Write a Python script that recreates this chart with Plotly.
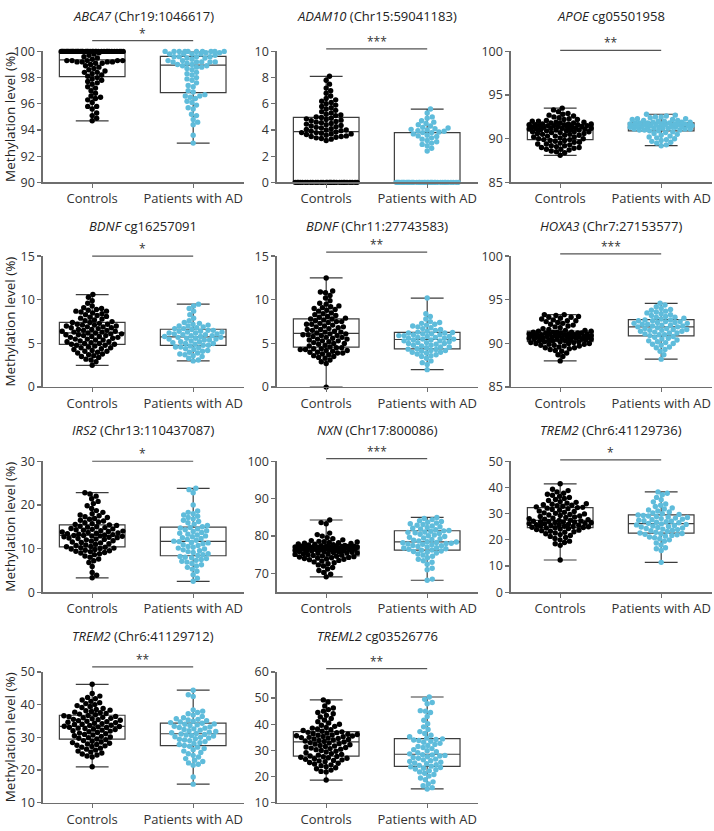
import math
import numpy as np
import plotly.graph_objects as go

W, H = 714, 831

categories = ["Controls", "Patients with AD"]

titles = [
    "<i>ABCA7</i> (Chr19:1046617)", "<i>ADAM10</i> (Chr15:59041183)", "<i>APOE</i> cg05501958",
    "<i>BDNF</i> cg16257091", "<i>BDNF</i> (Chr11:27743583)", "<i>HOXA3</i> (Chr7:27153577)",
    "<i>IRS2</i> (Chr13:110437087)", "<i>NXN</i> (Chr17:800086)", "<i>TREM2</i> (Chr6:41129736)",
    "<i>TREM2</i> (Chr6:41129712)", "<i>TREML2</i> cg03526776",
]
significance = ["*", "***", "**", "*", "**", "***", "*", "***", "*", "**", "**"]
y_ranges = [[90, 100], [0, 10], [85, 100], [0, 15], [0, 15], [85, 100],
            [0, 30], [65, 100], [0, 50], [10, 50], [10, 60]]
y_ticks = [
    [90, 92, 94, 96, 98, 100], [0, 2, 4, 6, 8, 10], [85, 90, 95, 100],
    [0, 5, 10, 15], [0, 5, 10, 15], [85, 90, 95, 100],
    [0, 10, 20, 30], [70, 80, 90, 100], [0, 10, 20, 30, 40, 50],
    [10, 20, 30, 40, 50], [10, 20, 30, 40, 50, 60],
]
y_title = "Methylation level (%)"

# ---------------- data ----------------
abca7_ctrl = [94.7, 94.9, 95.1, 95.3, 95.6, 95.8, 95.8, 96.1, 96.3, 96.4, 96.5, 96.6, 96.8, 97.0, 97.2, 97.3, 97.5, 97.6, 97.7, 97.8, 97.9, 98.0,
              98.1, 98.2, 98.3, 98.4, 98.4, 98.5, 98.6, 98.7, 98.8, 98.9, 99.0, 99.1, 99.1, 99.2, 99.2, 99.2, 99.2, 99.3, 99.3, 99.3, 99.3, 99.3,
              99.4, 99.5, 99.6, 99.7, 99.8, 99.9] + [100.0] * 38
abca7_ad = [93.0, 93.6, 94.4, 94.6, 94.8, 95.1, 95.2, 95.6, 95.7, 95.9, 96.1, 96.2, 96.4, 96.5, 96.6, 96.6, 96.7,
            96.9, 97.0, 97.3, 97.4, 97.6, 97.8, 97.9, 98.0, 98.2, 98.3, 98.4, 98.6, 98.7, 98.8, 98.8, 98.9, 98.9,
            99.0, 99.0, 99.1, 99.2, 99.2, 99.2, 99.2, 99.2, 99.3, 99.3, 99.4, 99.5, 99.5, 99.6, 99.6, 99.6, 99.6,
            99.7, 99.8, 99.8, 99.8, 99.8, 99.9, 99.9] + [100.0] * 10

adam10_ctrl = [0.0] * 30 + [3.2, 3.3, 3.35, 3.4, 3.45, 3.5, 3.5, 3.55, 3.6, 3.65, 3.7, 3.7, 3.75, 3.8, 3.8, 3.85,
               3.9, 3.95, 4.0, 4.0, 4.05, 4.1, 4.15, 4.2, 4.25, 4.3, 4.35, 4.4, 4.45, 4.5, 4.55, 4.6, 4.65, 4.7, 4.75, 4.8, 4.85, 4.9, 4.95,
               5.0, 5.1, 5.15, 5.2, 5.3, 5.4, 5.5, 5.6, 5.7, 5.8, 5.9, 6.0, 6.1, 6.2, 6.3, 6.4, 6.6, 6.8, 7.0, 7.2, 7.5, 7.8, 8.1]
adam10_ad = [0.0] * 38 + [2.4, 2.6, 2.8, 2.9, 3.0, 3.1, 3.2, 3.3, 3.4, 3.5, 3.55, 3.6, 3.7, 3.8, 3.8, 3.85, 3.9, 3.95,
             4.0, 4.05, 4.1, 4.15, 4.2, 4.3, 4.4, 4.5, 4.6, 4.7, 4.9, 5.0, 5.3, 5.6]

apoe_ctrl = [88.1, 88.4, 88.5, 88.6, 88.7, 88.8, 88.8, 88.9, 89.0, 89.0, 89.1, 89.2, 89.2, 89.3, 89.4, 89.4, 89.5, 89.6, 89.6, 89.7, 89.8, 89.8, 89.9,
             89.9, 90.0, 90.0, 90.1, 90.2, 90.2, 90.3, 90.3, 90.4, 90.4, 90.5, 90.5, 90.6, 90.6, 90.7, 90.7, 90.8, 90.8, 90.8, 90.9, 90.9, 91.0, 91.0,
             91.0, 91.0, 91.1, 91.1, 91.1, 91.2, 91.2, 91.2, 91.2, 91.3, 91.3, 91.3, 91.4, 91.4, 91.4, 91.5, 91.5, 91.5, 91.5, 91.6, 91.6, 91.6, 91.6,
             91.7, 91.7, 91.7, 91.8, 91.8, 91.8, 91.9, 91.9, 92.0, 92.0, 92.1, 92.2, 92.2, 92.3, 92.4, 92.5, 92.6, 92.7, 92.8, 92.9, 93.1, 93.3, 93.5]
apoe_ad = [89.2, 89.3, 89.5, 89.6, 89.7, 89.8, 89.9, 90.0, 90.1, 90.2, 90.3, 90.4, 90.5, 90.6, 90.7, 90.8, 90.9,
           90.9, 91.0, 91.0, 91.0, 91.1, 91.1, 91.1, 91.2, 91.2, 91.2, 91.3, 91.3, 91.3, 91.3, 91.4, 91.4, 91.4,
           91.4, 91.5, 91.5, 91.5, 91.5, 91.6, 91.6, 91.6, 91.6, 91.7, 91.7, 91.7, 91.7, 91.8, 91.8, 91.8, 91.8,
           91.9, 91.9, 91.9, 92.0, 92.0, 92.1, 92.1, 92.2, 92.2, 92.3, 92.3, 92.4, 92.5, 92.5, 92.6, 92.7, 92.8]

bdnf1_ctrl = [2.5, 2.9, 3.1, 3.2, 3.4, 3.5, 3.6, 3.7, 3.8, 3.9, 4.0, 4.1, 4.1, 4.2, 4.3, 4.4, 4.5, 4.5, 4.6, 4.7, 4.8, 4.8, 4.9,
              4.9, 5.0, 5.0, 5.1, 5.2, 5.2, 5.3, 5.4, 5.4, 5.5, 5.5, 5.6, 5.7, 5.7, 5.8, 5.8, 5.9, 5.9, 6.0, 6.0, 6.1, 6.1, 6.2,
              6.2, 6.3, 6.3, 6.4, 6.4, 6.5, 6.5, 6.6, 6.6, 6.7, 6.8, 6.8, 6.9, 6.9, 7.0, 7.0, 7.1, 7.1, 7.2, 7.2, 7.3, 7.4, 7.4,
              7.5, 7.6, 7.7, 7.8, 7.9, 8.0, 8.1, 8.2, 8.3, 8.4, 8.5, 8.6, 8.7, 8.7, 8.8, 8.9, 9.0, 9.1, 9.3, 9.6, 9.9, 10.3, 10.6]
bdnf1_ad = [3.0, 3.1, 3.3, 3.5, 3.6, 3.7, 3.8, 3.9, 4.0, 4.1, 4.2, 4.3, 4.4, 4.5, 4.6, 4.6, 4.7,
            4.8, 4.8, 4.9, 5.0, 5.0, 5.1, 5.2, 5.2, 5.3, 5.4, 5.4, 5.5, 5.5, 5.6, 5.6, 5.7, 5.7,
            5.8, 5.8, 5.9, 5.9, 6.0, 6.0, 6.1, 6.1, 6.2, 6.2, 6.3, 6.3, 6.4, 6.4, 6.5, 6.5, 6.6,
            6.7, 6.7, 6.8, 6.9, 7.0, 7.0, 7.1, 7.2, 7.3, 7.4, 7.6, 7.9, 8.3, 8.7, 9.0, 9.3, 9.5]

bdnf2_ctrl = [0.0, 2.7, 2.9, 3.1, 3.3, 3.4, 3.5, 3.6, 3.7, 3.8, 3.9, 3.9, 4.0, 4.0, 4.1, 4.2, 4.2, 4.3, 4.3, 4.4, 4.4, 4.5, 4.5,
              4.6, 4.7, 4.8, 4.9, 5.0, 5.0, 5.1, 5.2, 5.3, 5.3, 5.4, 5.5, 5.5, 5.6, 5.7, 5.7, 5.8, 5.9, 5.9, 6.0, 6.0, 6.1, 6.1,
              6.2, 6.3, 6.3, 6.4, 6.5, 6.6, 6.6, 6.7, 6.8, 6.9, 6.9, 7.0, 7.1, 7.2, 7.2, 7.3, 7.4, 7.5, 7.5, 7.6, 7.7, 7.8, 7.8,
              7.9, 8.0, 8.1, 8.2, 8.3, 8.4, 8.5, 8.7, 8.8, 8.9, 9.0, 9.1, 9.2, 9.3, 9.5, 9.6, 9.9, 10.2, 10.5, 10.8, 10.9, 11.0, 12.5]
bdnf2_ad = [2.0, 2.6, 2.8, 3.0, 3.3, 3.5, 3.6, 3.7, 3.8, 3.9, 4.0, 4.0, 4.1, 4.2, 4.2, 4.3, 4.35,
            4.4, 4.5, 4.6, 4.6, 4.7, 4.8, 4.8, 4.9, 5.0, 5.0, 5.1, 5.1, 5.2, 5.3, 5.3, 5.4, 5.4,
            5.5, 5.5, 5.6, 5.6, 5.7, 5.7, 5.8, 5.8, 5.9, 5.9, 6.0, 6.0, 6.1, 6.1, 6.2, 6.2, 6.25,
            6.3, 6.4, 6.5, 6.6, 6.7, 6.8, 6.9, 7.0, 7.1, 7.2, 7.3, 7.4, 7.5, 7.8, 8.1, 8.4, 10.2]

hoxa3_ctrl = [88.0, 88.5, 88.7, 88.9, 89.1, 89.2, 89.3, 89.4, 89.5, 89.5, 89.6, 89.7, 89.7, 89.8, 89.8, 89.9, 89.9, 90.0, 90.0, 90.0, 90.1, 90.1, 90.2,
              90.2, 90.2, 90.3, 90.3, 90.3, 90.4, 90.4, 90.4, 90.5, 90.5, 90.5, 90.5, 90.6, 90.6, 90.6, 90.6, 90.7, 90.7, 90.7, 90.7, 90.8, 90.8, 90.8,
              90.8, 90.9, 90.9, 90.9, 90.9, 91.0, 91.0, 91.0, 91.0, 91.1, 91.1, 91.1, 91.1, 91.2, 91.2, 91.2, 91.2, 91.3, 91.3, 91.3, 91.3, 91.4, 91.4,
              91.5, 91.5, 91.6, 91.7, 91.8, 91.9, 92.0, 92.1, 92.2, 92.3, 92.4, 92.5, 92.6, 92.6, 92.7, 92.8, 92.9, 93.0, 93.0, 93.1, 93.2, 93.3, 93.3]
hoxa3_ad = [88.2, 88.7, 89.1, 89.3, 89.5, 89.6, 89.8, 89.9, 90.0, 90.1, 90.2, 90.3, 90.4, 90.5, 90.6, 90.7, 90.8,
            90.9, 91.0, 91.0, 91.1, 91.2, 91.2, 91.3, 91.4, 91.4, 91.5, 91.5, 91.6, 91.6, 91.7, 91.7, 91.8, 91.9,
            91.9, 92.0, 92.0, 92.1, 92.1, 92.2, 92.2, 92.3, 92.3, 92.4, 92.4, 92.5, 92.5, 92.6, 92.6, 92.7, 92.7,
            92.8, 92.9, 93.0, 93.0, 93.1, 93.2, 93.3, 93.4, 93.5, 93.6, 93.7, 93.8, 93.9, 94.0, 94.2, 94.4, 94.6]

irs2_ctrl = [3.3, 3.9, 4.5, 5.9, 6.8, 7.2, 7.6, 8.0, 8.3, 8.6, 8.8, 9.0, 9.1, 9.3, 9.4, 9.5, 9.6, 9.8, 9.9, 10.0, 10.1, 10.2, 10.3,
             10.4, 10.5, 10.7, 10.8, 11.0, 11.1, 11.3, 11.4, 11.5, 11.7, 11.8, 12.0, 12.1, 12.2, 12.3, 12.4, 12.5, 12.6, 12.7, 12.8, 12.9, 12.9, 13.0,
             13.0, 13.1, 13.2, 13.3, 13.4, 13.5, 13.6, 13.7, 13.8, 13.9, 14.0, 14.1, 14.2, 14.3, 14.4, 14.5, 14.6, 14.8, 14.9, 15.0, 15.1, 15.3, 15.4,
             15.5, 15.7, 15.9, 16.1, 16.3, 16.5, 16.7, 16.9, 17.1, 17.3, 17.5, 17.7, 18.0, 18.3, 18.7, 19.2, 19.8, 20.3, 20.8, 21.4, 22.0, 22.5, 22.8]
irs2_ad = [2.5, 3.2, 4.0, 4.8, 5.3, 5.7, 6.0, 6.3, 6.6, 6.9, 7.1, 7.3, 7.5, 7.7, 7.9, 8.0, 8.2,
           8.4, 8.6, 8.8, 9.1, 9.3, 9.5, 9.7, 9.9, 10.1, 10.3, 10.5, 10.7, 10.9, 11.1, 11.3, 11.4, 11.6,
           11.7, 11.9, 12.1, 12.3, 12.5, 12.7, 12.9, 13.1, 13.3, 13.5, 13.7, 13.9, 14.1, 14.3, 14.5, 14.7, 14.85,
           15.0, 15.3, 15.6, 15.9, 16.2, 16.5, 16.8, 17.1, 17.4, 17.7, 18.0, 18.3, 18.6, 20.0, 22.8, 23.5, 23.8]

nxn_ctrl = [69.1, 69.8, 70.3, 70.8, 71.2, 71.6, 72.0, 72.3, 72.6, 72.9, 73.1, 73.3, 73.5, 73.7, 73.8, 73.9, 74.0, 74.1, 74.2, 74.3, 74.4, 74.5, 74.6,
            74.7, 74.8, 74.9, 75.0, 75.1, 75.2, 75.3, 75.4, 75.5, 75.5, 75.6, 75.7, 75.8, 75.8, 75.9, 76.0, 76.0, 76.1, 76.2, 76.2, 76.3, 76.4, 76.4,
            76.5, 76.5, 76.6, 76.6, 76.7, 76.7, 76.8, 76.8, 76.8, 76.9, 76.9, 77.0, 77.0, 77.0, 77.1, 77.1, 77.1, 77.2, 77.2, 77.2, 77.3, 77.3, 77.3,
            77.4, 77.5, 77.6, 77.7, 77.8, 77.9, 78.0, 78.1, 78.2, 78.3, 78.4, 78.5, 78.6, 78.8, 79.0, 79.3, 79.6, 80.0, 80.4, 80.8, 83.3, 83.6, 84.3]
nxn_ad = [68.2, 68.5, 71.0, 71.4, 72.5, 73.0, 73.4, 73.8, 74.2, 74.6, 74.9, 75.2, 75.5, 75.7, 75.9, 76.0, 76.2,
          76.3, 76.5, 76.6, 76.8, 76.9, 77.1, 77.2, 77.4, 77.5, 77.7, 77.8, 77.9, 78.0, 78.1, 78.2, 78.3, 78.4,
          78.5, 78.7, 78.9, 79.1, 79.3, 79.5, 79.7, 79.9, 80.1, 80.3, 80.5, 80.7, 80.9, 81.0, 81.1, 81.3, 81.4,
          81.5, 81.7, 81.9, 82.1, 82.3, 82.5, 82.7, 82.9, 83.1, 83.3, 83.5, 83.7, 83.9, 84.1, 84.4, 84.7, 85.0]

trem2a_ctrl = [12.3, 17.9, 18.5, 19.0, 19.5, 20.0, 20.5, 20.9, 21.3, 21.7, 22.0, 22.3, 22.6, 22.9, 23.1, 23.3, 23.5, 23.7, 23.9, 24.1, 24.3, 24.5, 24.6,
               24.7, 24.8, 25.0, 25.1, 25.2, 25.3, 25.5, 25.6, 25.7, 25.8, 26.0, 26.1, 26.2, 26.3, 26.5, 26.6, 26.7, 26.8, 26.9, 27.0, 27.1, 27.2, 27.4,
               27.5, 27.7, 27.9, 28.1, 28.3, 28.5, 28.7, 28.9, 29.1, 29.3, 29.5, 29.7, 29.9, 30.1, 30.3, 30.5, 30.8, 31.0, 31.3, 31.6, 31.9, 32.1, 32.3,
               32.4, 32.6, 32.8, 33.0, 33.2, 33.4, 33.6, 33.8, 34.0, 34.3, 34.6, 35.0, 35.4, 35.8, 36.2, 36.6, 37.0, 37.4, 37.8, 38.3, 38.8, 39.3, 41.4]
trem2a_ad = [11.4, 15.9, 16.6, 17.0, 18.0, 18.8, 19.5, 20.0, 20.4, 20.8, 21.1, 21.4, 21.7, 21.9, 22.1, 22.3, 22.4,
             22.6, 22.9, 23.2, 23.5, 23.7, 23.9, 24.1, 24.3, 24.5, 24.7, 24.9, 25.1, 25.3, 25.5, 25.7, 25.9, 26.1,
             26.3, 26.5, 26.7, 26.9, 27.1, 27.3, 27.5, 27.7, 27.9, 28.1, 28.3, 28.5, 28.7, 28.9, 29.1, 29.3, 29.5,
             29.7, 30.0, 30.3, 30.6, 31.0, 31.4, 31.8, 32.2, 32.7, 33.2, 33.7, 34.5, 35.3, 36.2, 37.2, 37.8, 38.3]

trem2b_ctrl = [21.0, 24.0, 24.3, 24.6, 24.9, 25.2, 25.5, 25.8, 26.1, 26.4, 26.7, 27.0, 27.2, 27.4, 27.6, 27.8, 28.0, 28.2, 28.4, 28.6, 28.8, 29.0, 29.3,
               29.5, 29.7, 29.9, 30.1, 30.3, 30.5, 30.7, 30.9, 31.1, 31.3, 31.5, 31.7, 31.9, 32.0, 32.2, 32.4, 32.5, 32.7, 32.8, 33.0, 33.1, 33.2, 33.3,
               33.4, 33.6, 33.7, 33.9, 34.0, 34.2, 34.3, 34.5, 34.6, 34.8, 34.9, 35.1, 35.2, 35.4, 35.5, 35.7, 35.8, 36.0, 36.1, 36.3, 36.4, 36.6, 36.7,
               36.9, 37.1, 37.3, 37.5, 37.7, 37.9, 38.1, 38.3, 38.5, 38.8, 39.1, 39.4, 39.7, 40.0, 40.3, 40.6, 41.0, 41.4, 41.8, 42.2, 42.6, 43.4, 46.2]
trem2b_ad = [15.7, 17.9, 21.5, 21.8, 22.2, 22.6, 23.0, 23.5, 24.0, 24.5, 25.0, 25.4, 25.8, 26.2, 26.6, 27.0, 27.3,
             27.5, 27.8, 28.1, 28.4, 28.7, 29.0, 29.2, 29.4, 29.6, 29.8, 30.0, 30.2, 30.4, 30.6, 30.7, 30.9, 31.0,
             31.2, 31.4, 31.6, 31.8, 32.0, 32.2, 32.4, 32.6, 32.8, 33.0, 33.2, 33.4, 33.6, 33.8, 34.0, 34.1, 34.3,
             34.5, 34.7, 34.9, 35.1, 35.3, 35.5, 35.7, 36.0, 36.4, 36.8, 37.2, 37.6, 38.0, 38.4, 42.5, 43.0, 44.4]

treml2_ctrl = [18.7, 21.8, 22.0, 22.5, 23.0, 23.4, 23.8, 24.2, 24.5, 24.8, 25.1, 25.4, 25.7, 26.0, 26.2, 26.4, 26.6, 26.8, 27.0, 27.2, 27.4, 27.6, 27.7,
               27.9, 28.2, 28.5, 28.8, 29.1, 29.4, 29.7, 30.0, 30.3, 30.5, 30.7, 30.9, 31.1, 31.3, 31.5, 31.7, 31.9, 32.2, 32.4, 32.6, 32.8, 33.0, 33.2,
               33.4, 33.6, 33.8, 34.0, 34.2, 34.4, 34.6, 34.7, 34.9, 35.0, 35.2, 35.3, 35.5, 35.6, 35.8, 35.9, 36.1, 36.2, 36.4, 36.6, 36.8, 36.9, 37.1,
               37.3, 37.6, 37.9, 38.2, 38.5, 38.8, 39.2, 39.6, 40.0, 40.5, 41.0, 41.6, 42.2, 42.8, 43.4, 44.0, 44.5, 45.0, 45.6, 46.2, 47.0, 48.5, 49.3]
treml2_ad = [15.3, 15.8, 16.5, 17.2, 18.0, 18.8, 19.5, 20.2, 20.8, 21.3, 21.8, 22.2, 22.6, 22.9, 23.2, 23.5, 23.8,
             24.0, 24.3, 24.6, 24.9, 25.2, 25.5, 25.8, 26.1, 26.4, 26.7, 27.0, 27.3, 27.6, 27.9, 28.1, 28.3, 28.4,
             28.7, 29.1, 29.5, 29.9, 30.3, 30.7, 31.1, 31.5, 31.9, 32.3, 32.7, 33.1, 33.5, 33.8, 34.0, 34.2, 34.4,
             34.7, 35.2, 35.8, 36.5, 37.2, 38.0, 39.0, 40.2, 41.5, 43.0, 44.5, 45.0, 45.2, 47.8, 48.3, 49.5, 50.4]

controls = [abca7_ctrl, adam10_ctrl, apoe_ctrl, bdnf1_ctrl, bdnf2_ctrl, hoxa3_ctrl,
            irs2_ctrl, nxn_ctrl, trem2a_ctrl, trem2b_ctrl, treml2_ctrl]
patients = [abca7_ad, adam10_ad, apoe_ad, bdnf1_ad, bdnf2_ad, hoxa3_ad,
            irs2_ad, nxn_ad, trem2a_ad, trem2b_ad, treml2_ad]

# ---------------- styling / layout ----------------
COL_CTRL = "#000000"
COL_AD = "#5FBCDB"
BOX_LINE = "#3c3c3c"
AXIS = "#6e6e6e"
TXT = "#333333"
FONT = "Open Sans"

col_left = [42.7, 276.7, 510.7]
plot_w = 201.5
row_top = [43.3, 252.3, 461.7, 676.7]
plot_h = 133.7
title_y = [7.5, 221.5, 430.0, 640.0]
sig_px = [11, 2.6, 1, 0, 4, 2.3, 0, 2.7, 1.4, 5, 3.4]
XR = [-0.49, 1.505]
x_ppu = plot_w / (XR[1] - XR[0])
BOX_W = 0.65
MS = 5.4
DIAM = 5.2
MAXW = 31.0


def beeswarm(vals, ppu_y, diam, maxw):
    order = sorted(range(len(vals)), key=lambda i: vals[i])
    placed = []
    offs = [0.0] * len(vals)
    flip = 1
    for i in order:
        yp = vals[i] * ppu_y
        near = [(x, y) for (x, y) in placed if abs(y - yp) < diam]
        cands = [0.0]
        for (x, y) in near:
            dx = math.sqrt(max(diam ** 2 - (y - yp) ** 2, 0.0))
            cands += [x + dx, x - dx]
        cands.sort(key=lambda c: (round(abs(c), 4), flip * c))
        chosen = None
        for c in cands:
            if abs(c) > maxw + 1e-9:
                continue
            if all((c - x) ** 2 + (yp - y) ** 2 >= diam ** 2 - 1e-6 for (x, y) in near):
                chosen = c
                break
        if chosen is None:
            grid = np.linspace(-maxw, maxw, 61)
            chosen = float(max(grid, key=lambda c: min(math.hypot(c - x, yp - y) for (x, y) in near)))
        flip = -flip
        placed.append((chosen, yp))
        offs[i] = chosen
    return offs


fig = go.Figure()
annotations = []
shapes = []

for k in range(11):
    r, c = divmod(k, 3)
    xa = "x" if k == 0 else f"x{k + 1}"
    ya = "y" if k == 0 else f"y{k + 1}"
    xd = [col_left[c] / W, (col_left[c] + plot_w) / W]
    yd = [1 - (row_top[r] + plot_h) / H, 1 - row_top[r] / H]
    lo, hi = y_ranges[k]
    ppu_y = plot_h / (hi - lo)

    for gi, (vals, color) in enumerate([(controls[k], COL_CTRL), (patients[k], COL_AD)]):
        q1, med, q3 = np.percentile(vals, [25, 50, 75])
        fig.add_trace(go.Box(
            x=[gi], q1=[q1], median=[med], q3=[q3],
            lowerfence=[min(vals)], upperfence=[max(vals)],
            width=BOX_W, whiskerwidth=0.5, fillcolor="rgba(0,0,0,0)",
            line=dict(color=BOX_LINE, width=1.2), boxpoints=False,
            xaxis=xa, yaxis=ya, showlegend=False, hoverinfo="skip"))
        offs = beeswarm(vals, ppu_y, DIAM, MAXW)
        fig.add_trace(go.Scatter(
            x=[gi + o / x_ppu for o in offs], y=vals, mode="markers",
            marker=dict(color=color, size=MS, line=dict(width=0)),
            cliponaxis=False, xaxis=xa, yaxis=ya, showlegend=False,
            name=categories[gi]))

    xname = "xaxis" if k == 0 else f"xaxis{k + 1}"
    yname = "yaxis" if k == 0 else f"yaxis{k + 1}"
    fig.update_layout(**{
        xname: dict(domain=xd, anchor=ya, range=XR, tickvals=[0, 1], ticktext=categories,
                    showline=True, linecolor=AXIS, linewidth=1.3, ticks="outside",
                    ticklen=4, tickwidth=1.3, tickcolor=AXIS,
                    tickfont=dict(family=FONT, size=13, color=TXT),
                    showgrid=False, zeroline=False, fixedrange=True),
        yname: dict(domain=yd, anchor=xa, range=[lo, hi], tickvals=y_ticks[k],
                    showline=True, linecolor=AXIS, linewidth=1.3, ticks="outside",
                    ticklen=4, tickwidth=1.3, tickcolor=AXIS,
                    tickfont=dict(family=FONT, size=12.5, color=TXT),
                    showgrid=False, zeroline=False, fixedrange=True),
    })

    sy = 1 + sig_px[k] / plot_h
    shapes.append(dict(type="line", xref=xa, yref=f"{ya} domain", x0=0, x1=1, y0=sy, y1=sy,
                       line=dict(color="#555555", width=1.2)))
    annotations.append(dict(xref=xa, yref=f"{ya} domain", x=0.5, y=sy, text=significance[k],
                            showarrow=False, yanchor="bottom", yshift=-3,
                            font=dict(family=FONT, size=12, color=TXT)))
    annotations.append(dict(xref="paper", yref="paper", x=(col_left[c] + plot_w / 2) / W,
                            y=1 - title_y[r] / H, text=titles[k], showarrow=False,
                            xanchor="center", yanchor="middle",
                            font=dict(family=FONT, size=13, color="#222222")))
    if c == 0:
        annotations.append(dict(xref="paper", yref="paper", x=10 / W,
                                y=1 - (row_top[r] + plot_h / 2) / H, text=y_title,
                                textangle=-90, showarrow=False, xanchor="center", yanchor="middle",
                                font=dict(family=FONT, size=13.5, color="#222222")))

fig.update_layout(
    width=W, height=H, margin=dict(l=0, r=0, t=0, b=0),
    paper_bgcolor="white", plot_bgcolor="white",
    boxmode="overlay", showlegend=False, hovermode=False,
    font=dict(family=FONT, color=TXT),
    annotations=annotations, shapes=shapes,
)

fig.write_html("out.html", config={"displayModeBar": False, "staticPlot": True},
               post_script="document.body.style.margin='0px';document.body.style.overflow='hidden';")
